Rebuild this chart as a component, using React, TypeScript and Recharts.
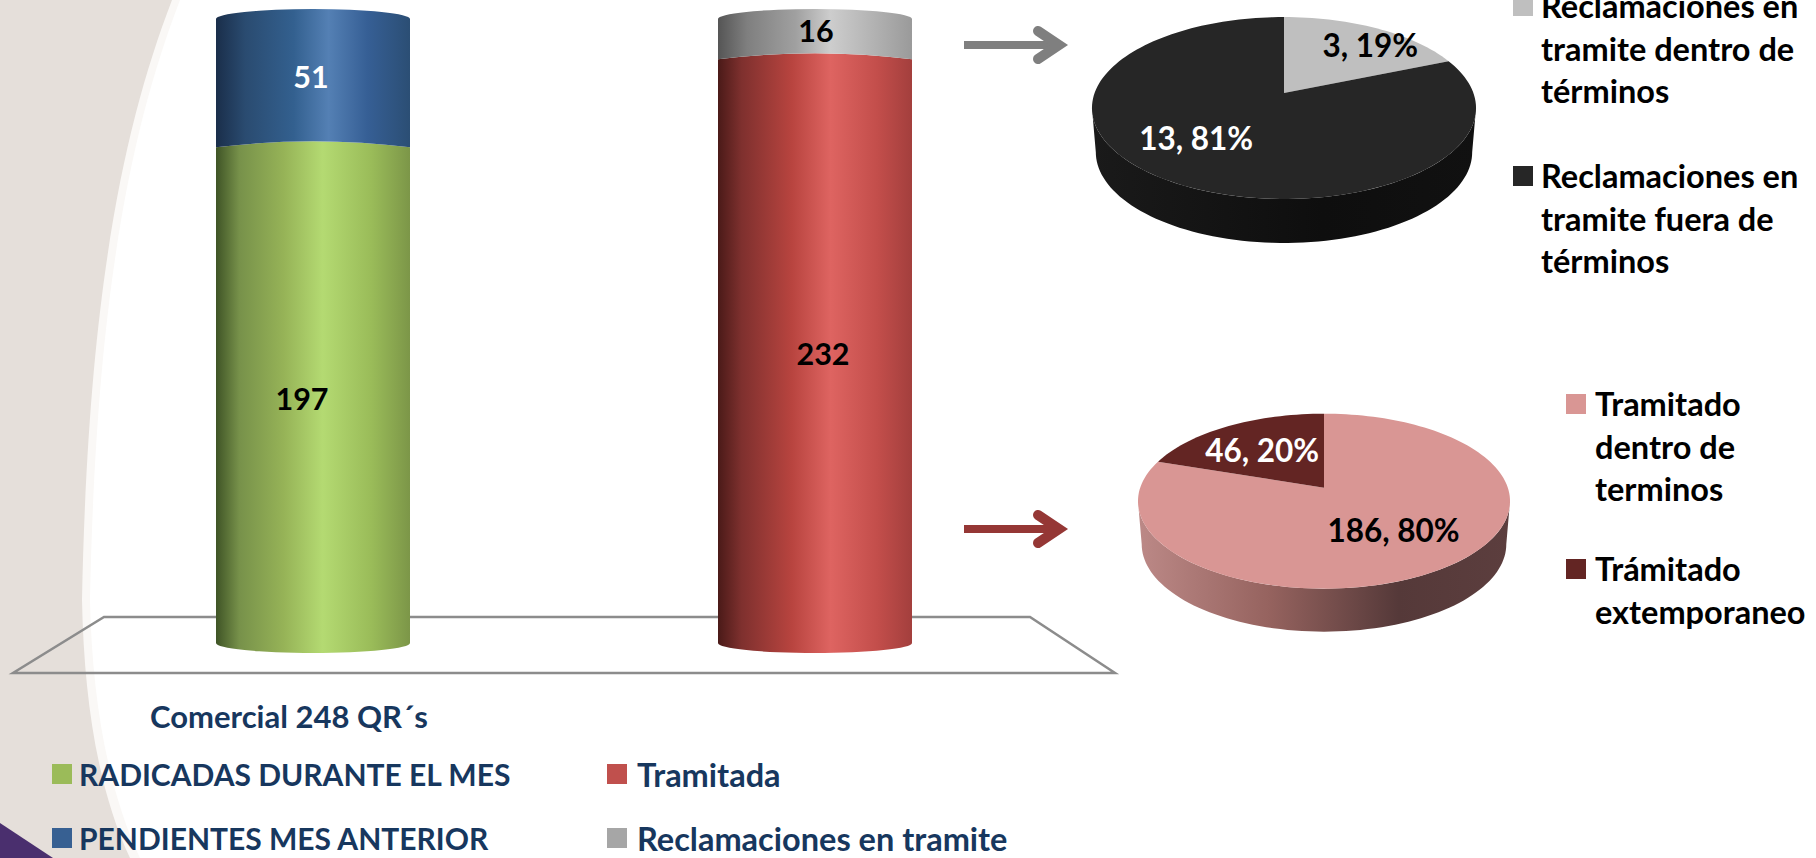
import React from "react";
import { Bar, BarChart, Cell, LabelList, Legend, Pie, PieChart, XAxis, YAxis } from "recharts";

const categories = ["Comercial 248 QR´s", ""];
const radicadas = [197, null];
const pendientes = [51, null];
const tramitada = [null, 232];
const enTramite = [null, 16];

const seriesNames = ["RADICADAS DURANTE EL MES", "PENDIENTES MES ANTERIOR", "Tramitada", "Reclamaciones en tramite"];
const seriesSwatches = ["#9bbb59", "#376092", "#c0504d", "#a6a6a6"];

const tramiteNames = ["Reclamaciones en tramite dentro de términos", "Reclamaciones en tramite fuera de términos"];
const tramiteValues = [3, 13];
const tramiteColors = ["#bfbfbf", "#262626"];

const tramitadoNames = ["Tramitado dentro de terminos", "Trámitado extemporaneo"];
const tramitadoValues = [186, 46];
const tramitadoColors = ["#d99694", "#632523"];

const FONT = "Lato, 'Open Sans', sans-serif";
const NAVY = "#17375e";

const barData = categories.map((name, i) => ({
  name,
  radicadas: radicadas[i],
  pendientes: pendientes[i],
  tramitada: tramitada[i],
  enTramite: enTramite[i],
}));
const toPie = (names, values, colors) => names.map((name, i) => ({ name, value: values[i], fill: colors[i] }));

// cylinder piece: cap = ellipse bulging up, joint = flat curve shared with the piece above
const cylinder = (top, bottom) => (props) => {
  const { x, y, width: w, height: h, fill } = props;
  if (!(h > 0)) return null;
  const upper = top.cap
    ? `A ${w / 2} ${top.cap} 0 0 1 ${x + w} ${y}`
    : `Q ${x + w / 2} ${y - top.joint * 2} ${x + w} ${y}`;
  const lower = bottom.cap
    ? `A ${w / 2} ${bottom.cap} 0 0 1 ${x} ${y + h}`
    : `Q ${x + w / 2} ${y + h - bottom.joint * 2} ${x} ${y + h}`;
  return <path d={`M ${x} ${y} ${upper} L ${x + w} ${y + h} ${lower} Z`} fill={fill} />;
};

const valueLabel = (color, dx, dy) => (props) => {
  const { x, y, width, height, value } = props;
  if (value == null) return null;
  return (
    <text x={x + width / 2 + dx} y={y + height / 2 + dy} fill={color} fontFamily={FONT} fontWeight={700} fontSize={30.5} textAnchor="middle" dominantBaseline="central">
      {value}
    </text>
  );
};

const sweepGradient = (id, stops) => (
  <linearGradient id={id} x1="0" y1="0" x2="1" y2="0">
    {stops.map(([o, c]) => (
      <stop key={o} offset={o} stopColor={c} />
    ))}
  </linearGradient>
);

const CategoryTick = ({ x, y, payload }) => (
  <text x={x - 24} y={y + 65} fill={NAVY} fontFamily={FONT} fontWeight={700} fontSize={31} textAnchor="middle" dominantBaseline="central">
    {payload.value}
  </text>
);

const BarLegend = () => (
  <div style={{ position: "relative", width: 1150, height: 110, fontFamily: FONT, fontWeight: 700, color: NAVY }}>
    {seriesNames.map((name, i) => (
      <div key={name} style={{ position: "absolute", left: i < 2 ? 52 : 607, top: (i % 2) * 64 + 11, height: 30, fontSize: i < 2 ? 30 : 32.5, display: "flex", alignItems: "center", whiteSpace: "nowrap" }}>
        <span style={{ width: 20, height: 20, background: seriesSwatches[i], marginRight: i < 2 ? 7 : 10 }} />
        {name}
      </div>
    ))}
  </div>
);

const pieLegend = (swatchGap, gap, textWidth) => ({ payload }) => (
  <div style={{ fontFamily: FONT, fontWeight: 700, fontSize: 32.5, lineHeight: "42.5px", color: "#000" }}>
    {payload.map((entry) => (
      <div key={entry.value} style={{ display: "flex", marginBottom: gap }}>
        <span style={{ width: 20, height: 20, marginTop: 11, marginRight: swatchGap, flex: "none", background: entry.payload.fill }} />
        <span style={{ width: textWidth }}>{entry.value}</span>
      </div>
    ))}
  </div>
);

// tilted pie: a circle seen in perspective, k is the foreshortening, rx / ry the projected radii
const toScreen = (p, deg, frac = 1) => {
  const a = (deg * Math.PI) / 180;
  const u = Math.cos(a) * frac;
  const v = Math.sin(a) * frac;
  const d = 1 + p.k * v;
  return [p.cx + (p.rx * u) / d, p.cy - (p.ry * v) / d];
};

const arc = (p, from, to) => {
  const n = Math.max(2, Math.ceil(Math.abs(from - to) / 2));
  return Array.from({ length: n + 1 }, (_, i) => toScreen(p, from + ((to - from) * i) / n));
};

const tiltedSector = (p) => (props) => {
  const { startAngle, endAngle, fill } = props;
  const top = arc(p, startAngle, endAngle);
  const surface = `M ${p.cx} ${p.cy} ` + top.map(([x, y]) => `L ${x} ${y}`).join(" ") + " Z";
  const edge = (Math.asin(p.k) * 180) / Math.PI;
  const from = Math.min(startAngle, -edge);
  const to = Math.max(endAngle, -180 + edge);
  let wall = null;
  if (from > to) {
    const front = arc(p, from, to);
    const floor = [...front].reverse().map(([x, y]) => [p.cx + (x - p.cx) * p.wallScale, y + p.depth]);
    wall = <polygon points={[...front, ...floor].map((q) => q.join(",")).join(" ")} fill={`url(#${p.wallId})`} />;
  }
  return (
    <g>
      {wall}
      <path d={surface} fill={fill} />
    </g>
  );
};

const sliceLabel = (p, colors, nudges) => (props) => {
  const { midAngle, value, percent, index } = props;
  const [x, y] = toScreen(p, midAngle, 0.6);
  return (
    <text x={x + nudges[index][0]} y={y + nudges[index][1]} fill={colors[index]} fontFamily={FONT} fontWeight={700} fontSize={31.5} textAnchor="middle" dominantBaseline="central">
      {`${value}, ${Math.round(percent * 100)}%`}
    </text>
  );
};

const tramiteShape = { cx: 224, cy: 93, k: 0.165, rx: 189.4, ry: 88.5, depth: 44, wallScale: 0.98, wallId: "wallDark" };
const tramitadoShape = { cx: 264, cy: 107.7, k: 0.154, rx: 183.8, ry: 85.4, depth: 43, wallScale: 0.98, wallId: "wallRose" };

const Arrow = ({ y, color }) => (
  <g stroke={color} strokeWidth={8} fill="none">
    <line x1={964} y1={y} x2={1055} y2={y} />
    <polyline points={`1038,${y - 14} 1059,${y} 1038,${y + 14}`} strokeWidth={10} strokeLinecap="round" strokeLinejoin="miter" />
  </g>
);

export default function App() {
  const tramiteSector = tiltedSector(tramiteShape);
  const tramitadoSector = tiltedSector(tramitadoShape);
  return (
    <div style={{ position: "absolute", left: 0, top: 0, width: 1816, height: 858, overflow: "hidden", background: "#fff" }}>
      <svg width={1816} height={858} style={{ position: "absolute", left: 0, top: 0 }}>
        <path d="M 0 0 L 180 0 C 130 130 96 300 90 600 C 92 700 108 790 140 858 L 0 858 Z" fill="#faf8f6" />
        <path d="M 0 0 L 172 0 C 122 130 88 300 82 600 C 84 700 98 790 130 858 L 0 858 Z" fill="#e5dfda" />
        <path d="M 0 823 L 53 858 L 0 858 Z" fill="#4a2f6e" />
        <polygon points="104,617 1030,617 1115,673 13,673" fill="none" stroke="#8c8c8c" strokeWidth={2.5} />
        <Arrow y={45} color="#7f7f7f" />
        <Arrow y={529} color="#953735" />
      </svg>

      <div style={{ position: "absolute", left: 0, top: 0 }}>
        <BarChart width={1150} height={858} data={barData} margin={{ top: 19, right: 84, bottom: 0, left: 62 }}>
          <defs>
            {sweepGradient("cylGreen", [[0, "#3f5426"], [0.12, "#77914a"], [0.35, "#96b357"], [0.55, "#b4da72"], [0.8, "#9abc59"], [1, "#7c9648"]])}
            {sweepGradient("cylBlue", [[0, "#1a2e4a"], [0.15, "#2a4b70"], [0.4, "#33608f"], [0.58, "#5480b4"], [0.78, "#365f95"], [1, "#2b4e74"]])}
            {sweepGradient("cylRed", [[0, "#4a1a18"], [0.12, "#7e302e"], [0.38, "#b8443f"], [0.58, "#de6461"], [0.82, "#c34e4b"], [1, "#a33f3d"]])}
            {sweepGradient("cylGrey", [[0, "#555555"], [0.15, "#7f7f7f"], [0.4, "#a0a0a0"], [0.58, "#cdcdcd"], [0.82, "#b0b0b0"], [1, "#9a9a9a"]])}
          </defs>
          <XAxis dataKey="name" height={105} axisLine={false} tickLine={false} interval={0} tick={CategoryTick} />
          <YAxis hide domain={[0, 248]} />
          <Bar dataKey="radicadas" name={seriesNames[0]} stackId="a" barSize={194} fill="url(#cylGreen)" shape={cylinder({ joint: 6 }, { cap: 10 })} isAnimationActive={false}>
            <LabelList dataKey="radicadas" content={valueLabel("#000", -11, 3)} />
          </Bar>
          <Bar dataKey="pendientes" name={seriesNames[1]} stackId="a" barSize={194} fill="url(#cylBlue)" shape={cylinder({ cap: 10 }, { joint: 6 })} isAnimationActive={false}>
            <LabelList dataKey="pendientes" content={valueLabel("#fff", -2, -7)} />
          </Bar>
          <Bar dataKey="tramitada" name={seriesNames[2]} stackId="a" barSize={194} fill="url(#cylRed)" shape={cylinder({ joint: 6 }, { cap: 10 })} isAnimationActive={false}>
            <LabelList dataKey="tramitada" content={valueLabel("#000", 8, 2)} />
          </Bar>
          <Bar dataKey="enTramite" name={seriesNames[3]} stackId="a" barSize={194} fill="url(#cylGrey)" shape={cylinder({ cap: 10 }, { joint: 6 })} isAnimationActive={false}>
            <LabelList dataKey="enTramite" content={valueLabel("#000", 1, -9)} />
          </Bar>
          <Legend content={BarLegend} wrapperStyle={{ left: 0, top: 748, width: 1150, height: 110 }} />
        </BarChart>
      </div>

      <div style={{ position: "absolute", left: 1060, top: 0 }}>
        <PieChart width={756} height={380} margin={{ top: 0, right: 0, bottom: 0, left: 0 }}>
          <defs>{sweepGradient("wallDark", [[0, "#1a1a1a"], [0.6, "#0e0e0e"], [1, "#111111"]])}</defs>
          <Pie
            data={toPie(tramiteNames, tramiteValues, tramiteColors)}
            dataKey="value"
            nameKey="name"
            cx={tramiteShape.cx}
            cy={tramiteShape.cy}
            outerRadius={tramiteShape.rx}
            startAngle={90}
            endAngle={-270}
            stroke="none"
            shape={tramiteSector}
            inactiveShape={tramiteSector}
            labelLine={false}
            label={sliceLabel(tramiteShape, ["#000", "#fff"], [[28, -7], [-19, -3]])}
            isAnimationActive={false}
          >
            {tramiteColors.map((c) => (
              <Cell key={c} fill={c} />
            ))}
          </Pie>
          <Legend layout="vertical" content={pieLegend(8, 42.5, 275)} wrapperStyle={{ left: 453, top: -15, width: 303 }} />
        </PieChart>
      </div>

      <div style={{ position: "absolute", left: 1060, top: 380 }}>
        <PieChart width={756} height={320} margin={{ top: 0, right: 0, bottom: 0, left: 0 }}>
          <defs>{sweepGradient("wallRose", [[0, "#bc8987"], [0.35, "#96635f"], [0.7, "#553939"], [1, "#5c3e3e"]])}</defs>
          <Pie
            data={toPie(tramitadoNames, tramitadoValues, tramitadoColors)}
            dataKey="value"
            nameKey="name"
            cx={tramitadoShape.cx}
            cy={tramitadoShape.cy}
            outerRadius={tramitadoShape.rx}
            startAngle={90}
            endAngle={-270}
            stroke="none"
            shape={tramitadoSector}
            inactiveShape={tramitadoSector}
            labelLine={false}
            label={sliceLabel(tramitadoShape, ["#000", "#fff"], [[0, -3], [-2, 1]])}
            isAnimationActive={false}
          >
            {tramitadoColors.map((c) => (
              <Cell key={c} fill={c} />
            ))}
          </Pie>
          <Legend layout="vertical" content={pieLegend(9, 37.5, 221)} wrapperStyle={{ left: 506, top: 3, width: 250 }} />
        </PieChart>
      </div>
    </div>
  );
}
